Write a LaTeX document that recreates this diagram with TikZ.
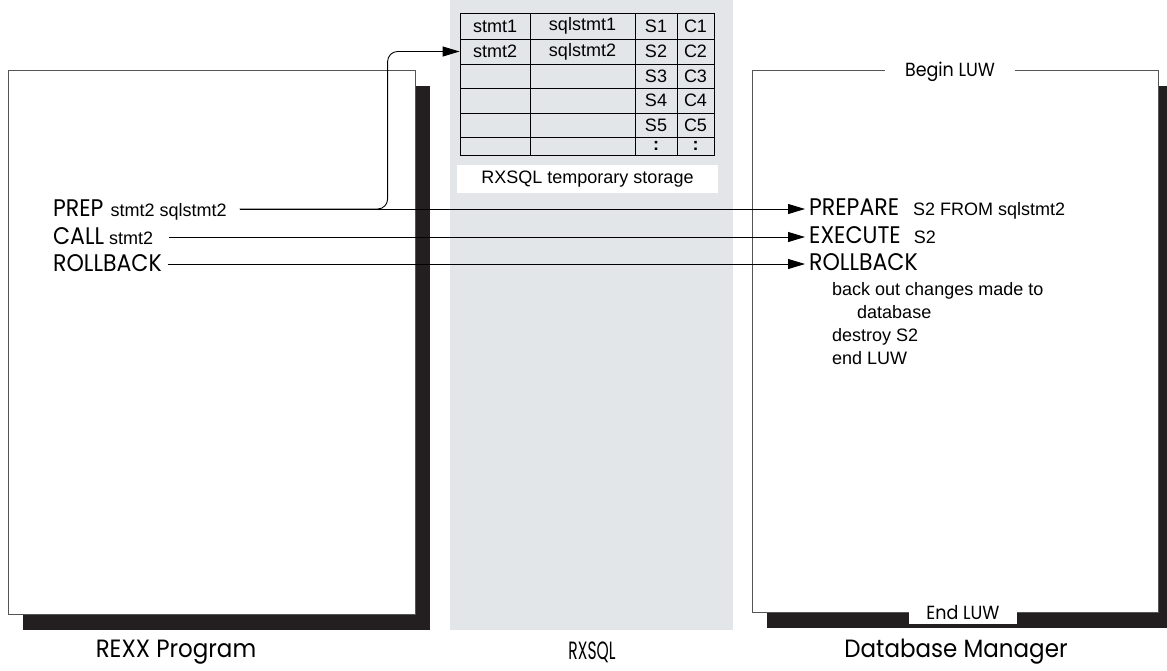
\documentclass[tikz,border=0pt]{standalone}
\usepackage{fontspec}
\setmainfont{Liberation Sans}
\newfontfamily\gothic[FakeStretch=0.92]{Poppins}
\newfontfamily\gothicnarrow[FakeStretch=0.62]{Poppins}
\usepackage{xcolor}
\usetikzlibrary{arrows.meta,positioning,shadows}
\definecolor{rxgray}{HTML}{E3E6E9}
\definecolor{shade}{HTML}{231F20}
\definecolor{rim}{HTML}{555555}
\newcommand{\keyw}[1]{{\gothic\fontsize{24}{26}\selectfont #1}}

\begin{document}
\begin{tikzpicture}[x=1pt, y=-1pt,
  panel/.style={draw=rim, line width=1pt, fill=white, inner sep=0pt,
    drop shadow={shadow xshift=15pt, shadow yshift=-16pt, fill=shade, opacity=1}},
  cell/.style={draw, line width=0.8pt, inner sep=0pt, font=\fontsize{18}{20}\selectfont},
  cmd/.style={anchor=base west, inner sep=3pt, font=\fontsize{18}{20}\selectfont},
  note/.style={anchor=base west, inner sep=0pt, font=\fontsize{18}{20}\selectfont},
  call/.style={-{Triangle[length=17pt,width=10pt]}, line width=0.9pt},
  luw/.style={fill=white, inner xsep=20pt, font=\gothic\fontsize{19}{21}\selectfont},
  caption/.style={font=\gothic\fontsize{25}{27}\selectfont},
]
\useasboundingbox (0,0) rectangle (1167,670);

% --- RXSQL column ---
\fill[rxgray] (450,0) rectangle (733,630);

% --- REXX program and database manager ---
\node[panel, minimum width=407pt, minimum height=544pt] (rexx) at (211.5,342) {};
\node[panel, minimum width=406pt, minimum height=542pt] (dbm)  at (955,341) {};
\node[luw] (begin) at (950,72) {Begin LUW};
\node[luw, inner xsep=17pt, minimum height=22pt] (end) at (963,613) {End LUW};

% --- RXSQL temporary storage ---
\foreach \r/\yc/\h/\sa/\sb/\sc/\sd in {1/26/26/stmt1/sqlstmt1/S1/C1,
    2/51.5/25/stmt2/sqlstmt2/S2/C2, 3/76/24///S3/C3, 4/100.5/25///S4/C4,
    5/125/24///S5/C5, 6/146/18///{\textbf{:}}/{\textbf{:}}} {
  \node[cell, minimum width=70pt,  minimum height=\h pt] (a\r) at (495,\yc)   {\sa};
  \node[cell, minimum width=105pt, minimum height=\h pt] (b\r) at (582.5,\yc) {\sb};
  \node[cell, minimum width=42pt,  minimum height=\h pt] (c\r) at (656,\yc)   {\sc};
  \node[cell, minimum width=37pt,  minimum height=\h pt] (d\r) at (695.5,\yc) {\sd};
}
\node[fill=white, minimum width=261pt, minimum height=28pt,
  font=\fontsize{18}{20}\selectfont] (store) at (587.5,179) {RXSQL temporary storage};

% --- REXX statements ---
\node[cmd] (prep)  at (50,216) {\keyw{PREP}\hspace{7pt}stmt2 sqlstmt2};
\node[cmd] (call)  at (50,244) {\keyw{CALL}\hspace{5pt}stmt2};
\node[cmd] (rollL) at (50,271) {\keyw{ROLLBACK}};

% --- database manager statements ---
\node[cmd, inner sep=4pt] (prepare) at (805,215) {\keyw{PREPARE}\hspace{14pt}S2 FROM sqlstmt2};
\node[cmd, inner sep=4pt] (execute) at (805,243) {\keyw{EXECUTE}\hspace{13pt}S2};
\node[cmd, inner sep=4pt] (rollR)   at (805,270) {\keyw{ROLLBACK}};
\node[note] (n1) at (832,295) {back out changes made to};
\node[note] (n2) at (857,318) {database};
\node[note] (n3) at (832,341) {destroy S2};
\node[note] (n4) at (832,364) {end LUW};

% --- calls ---
\coordinate (p1) at ([xshift=10pt, yshift=7pt]prep.base east);
\coordinate (p2) at ([xshift=13pt, yshift=7pt]call.base east);
\coordinate (p3) at ([xshift=3pt, yshift=7pt]rollL.base east);
\coordinate (bend) at ([xshift=-72pt]a2.west);
\draw[call] (p1) -- (p1 -| prepare.west);
\draw[call] (p2) -- (p2 -| execute.west);
\draw[call] (p3) -- (p3 -| rollR.west);
\draw[call, rounded corners=10pt] (p1) -| (bend) -- (a2.west);

% --- captions ---
\node[caption] (cap1) at (176,652) {REXX Program};
\node[caption, font=\gothicnarrow\fontsize{25}{27}\selectfont] (cap2) at (592,652) {RXSQL};
\node[caption] (cap3) at (956,652) {Database Manager};
\end{tikzpicture}
\end{document}
